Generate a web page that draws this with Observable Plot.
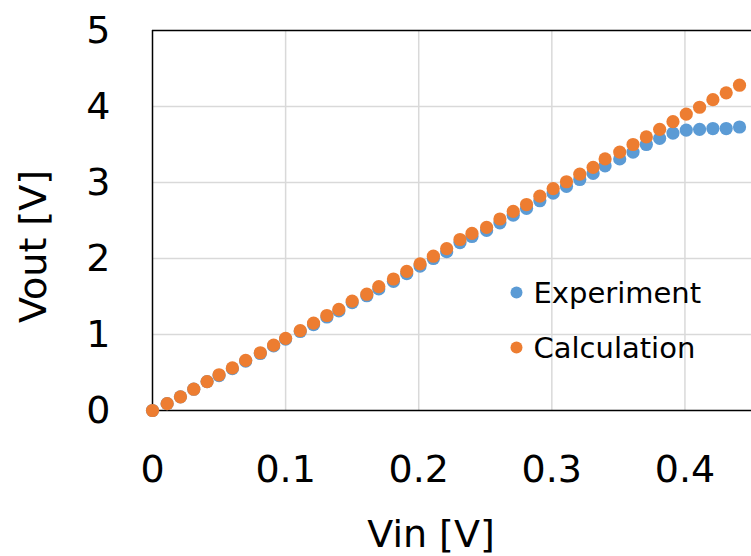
<!DOCTYPE html>
<html>
<head>
<meta charset="utf-8">
<script src="https://cdn.jsdelivr.net/npm/d3@7"></script>
<script src="https://cdn.jsdelivr.net/npm/@observablehq/plot@0.6"></script>
<style>
  html, body { margin: 0; padding: 0; background: #fff; }
  #chart { width: 751px; height: 556px; }
</style>
</head>
<body>
<div id="chart"></div>
<script>
// ---- Data ----
const vin = [0, 0.011, 0.021, 0.031, 0.041, 0.050, 0.060, 0.070, 0.081, 0.091,
  0.100, 0.111, 0.121, 0.131, 0.140, 0.150, 0.161, 0.170, 0.181, 0.191,
  0.201, 0.211, 0.221, 0.231, 0.240, 0.251, 0.261, 0.271, 0.281, 0.291,
  0.301, 0.311, 0.321, 0.331, 0.340, 0.351, 0.361, 0.371, 0.381, 0.391,
  0.401, 0.411, 0.421, 0.431, 0.441];
const experiment = [0, 0.09, 0.18, 0.28, 0.38, 0.46, 0.55, 0.65, 0.75, 0.85,
  0.94, 1.04, 1.13, 1.23, 1.31, 1.42, 1.51, 1.60, 1.70, 1.80,
  1.90, 2.00, 2.09, 2.21, 2.29, 2.37, 2.47, 2.57, 2.66, 2.76,
  2.86, 2.95, 3.04, 3.12, 3.22, 3.31, 3.40, 3.50, 3.58, 3.65,
  3.69, 3.70, 3.71, 3.71, 3.73];
const calculation = [0, 0.09, 0.18, 0.28, 0.38, 0.47, 0.56, 0.66, 0.76, 0.86,
  0.95, 1.05, 1.15, 1.25, 1.33, 1.44, 1.53, 1.63, 1.73, 1.83,
  1.93, 2.03, 2.13, 2.25, 2.33, 2.41, 2.52, 2.62, 2.71, 2.82,
  2.92, 3.01, 3.11, 3.20, 3.31, 3.40, 3.50, 3.60, 3.70, 3.80,
  3.90, 3.99, 4.09, 4.18, 4.28];
const seriesNames = ["Experiment", "Calculation"];
const seriesColors = ["#5B9BD5", "#ED7D31"];
const xTicks = [0, 0.1, 0.2, 0.3, 0.4];
const xTickLabels = ["0", "0.1", "0.2", "0.3", "0.4"];
const yTicks = [0, 1, 2, 3, 4, 5];
const yTickLabels = ["0", "1", "2", "3", "4", "5"];
const xTitle = "Vin [V]";
const yTitle = "Vout [V]";

const expData = vin.map((v, i) => ({vin: v, vout: experiment[i]}));
const calcData = vin.map((v, i) => ({vin: v, vout: calculation[i]}));

const FONT = "DejaVu Sans";
const LEFT = 152, TOP = 30;

const chart = Plot.plot({
  width: 751,
  height: 556,
  marginLeft: LEFT,
  marginRight: 0,
  marginTop: TOP,
  marginBottom: 146,
  style: {fontFamily: FONT, fontSize: "38px", color: "#000", background: "#fff"},
  x: {domain: [0, 0.45]},
  y: {domain: [0, 5]},
  marks: [
    Plot.gridX(xTicks.slice(1), {stroke: "#d9d9d9", strokeOpacity: 1, strokeWidth: 1.5}),
    Plot.gridY(yTicks.slice(1, -1), {stroke: "#d9d9d9", strokeOpacity: 1, strokeWidth: 1.5}),
    Plot.ruleY([0, 5], {stroke: "#000", strokeWidth: 1.5}),
    Plot.ruleX([0], {stroke: "#000", strokeWidth: 1.5}),
    Plot.axisX({ticks: xTicks, tickSize: 0, tickPadding: 45, fontSize: 38,
      tickFormat: (d, i) => xTickLabels[i], label: null}),
    Plot.axisY({ticks: yTicks, tickSize: 0, tickPadding: 42, fontSize: 38,
      tickFormat: (d, i) => yTickLabels[i], label: null}),
    Plot.text([xTitle], {frameAnchor: "bottom", dx: -21, dy: 124, fontSize: 38,
      textAnchor: "middle", lineAnchor: "middle", fill: "#000"}),
    Plot.text([yTitle], {frameAnchor: "left", dx: -119, dy: 26, rotate: -90,
      fontSize: 38, textAnchor: "middle", lineAnchor: "middle", fill: "#000"}),
    Plot.dot(expData, {x: "vin", y: "vout", r: 6.6, fill: seriesColors[0], stroke: "none"}),
    Plot.dot(calcData, {x: "vin", y: "vout", r: 6.6, fill: seriesColors[1], stroke: "none"}),
    // legend
    Plot.dot([seriesNames[0]], {frameAnchor: "top-left", dx: 516 - LEFT, dy: 292 - TOP, r: 6, fill: seriesColors[0]}),
    Plot.dot([seriesNames[1]], {frameAnchor: "top-left", dx: 516 - LEFT, dy: 347 - TOP, r: 6, fill: seriesColors[1]}),
    Plot.text([seriesNames[0]], {text: d => d, frameAnchor: "top-left", dx: 533 - LEFT, dy: 293 - TOP,
      textAnchor: "start", lineAnchor: "middle", fontSize: 29, fill: "#000"}),
    Plot.text([seriesNames[1]], {text: d => d, frameAnchor: "top-left", dx: 533 - LEFT, dy: 348 - TOP,
      textAnchor: "start", lineAnchor: "middle", fontSize: 29, fill: "#000"})
  ]
});
document.getElementById("chart").appendChild(chart);
</script>
</body>
</html>
